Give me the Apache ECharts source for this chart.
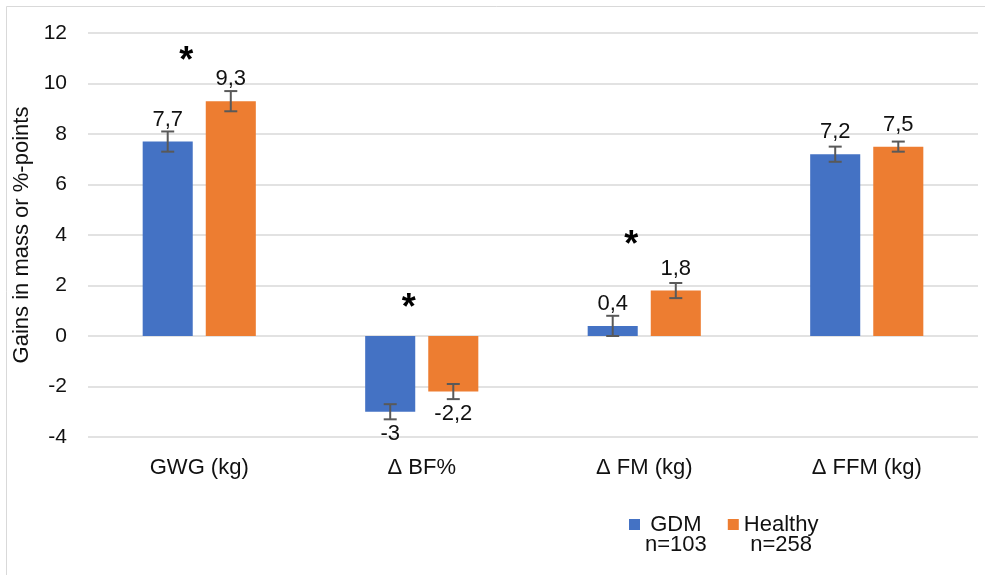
<!DOCTYPE html>
<html>
<head>
<meta charset="utf-8">
<script src="https://cdn.jsdelivr.net/npm/echarts@6/dist/echarts.min.js"></script>
<style>
  html, body { margin: 0; padding: 0; background: #fff; }
  #chart { width: 985px; height: 575px; }
</style>
</head>
<body>
<div id="chart"></div>
<script>
// data
const categories = ['GWG (kg)', '\u0394 BF%', '\u0394 FM (kg)', '\u0394 FFM (kg)']
const gdm = [7.7, -3, 0.4, 7.2]
const healthy = [9.3, -2.2, 1.8, 7.5]
const gdmErr = [0.4, 0.3, 0.4, 0.3]
const healthyErr = [0.4, 0.3, 0.3, 0.2]
const sigMark = [11.1, 1.3, 3.8, null]   // where the * sits, null = none
const groupNames = ['GDM', 'Healthy']
const groupN = ['n=103', 'n=258']

const BLUE = '#4472C4'
const ORANGE = '#ED7D31'
const FONT = 'Liberation Sans, Arial, sans-serif'
const BAR_W = 0.225   // share of the band
const BAR_GAP = 0.26  // share of bar width

const chart = echarts.init(document.getElementById('chart'))

function toComma(v) {
  return String(v).replace('.', ',')
}

function barData(arr) {
  return arr.map(v => ({
    value: v,
    label: { position: v < 0 ? 'bottom' : 'top' }
  }))
}

// error bar drawn at the bar's own offset inside the band
function errRenderer(sign) {
  return function (params, api) {
    const idx = api.value(0)
    const v = api.value(1)
    const e = api.value(2)
    const band = api.size([1, 0])[0]
    const off = sign * band * BAR_W * (1 + BAR_GAP) / 2
    const x = api.coord([idx, v])[0] + off
    const hi = api.coord([idx, v + e])[1]
    const lo = api.coord([idx, v - e])[1]
    const cap = 6.5
    const style = { stroke: '#595959', lineWidth: 2 }
    return {
      type: 'group',
      children: [
        { type: 'line', shape: { x1: x, y1: hi, x2: x, y2: lo }, style },
        { type: 'line', shape: { x1: x - cap, y1: hi, x2: x + cap, y2: hi }, style },
        { type: 'line', shape: { x1: x - cap, y1: lo, x2: x + cap, y2: lo }, style }
      ]
    }
  }
}

const labelStyle = {
  show: true,
  distance: 11,
  fontFamily: FONT,
  fontSize: 22,
  color: '#111',
  formatter: p => toComma(p.value)
}

const option = {
  animation: false,
  backgroundColor: '#fff',
  graphic: [{
    type: 'rect',
    shape: { x: 6.5, y: 6.5, width: 990, height: 590 },
    style: { fill: 'none', stroke: '#d9d9d9', lineWidth: 1 }
  }],
  legend: {
    left: 629,
    top: 514,
    padding: 0,
    selectedMode: false,
    itemWidth: 11,
    itemHeight: 33,
    itemGap: 21,
    data: groupNames.map(n => ({ name: n, icon: 'path://M0,0h10v10h-10z M0,29h0.01v0.01h-0.01z' })),
    formatter: name => {
      const i = groupNames.indexOf(name)
      return '{a|' + name + '}\n{a|' + groupN[i] + '}'
    },
    textStyle: {
      fontFamily: FONT,
      fontSize: 22,
      color: '#111',
      rich: { a: { fontFamily: FONT, fontSize: 22, color: '#111', lineHeight: 20, align: 'center' } }
    }
  },
  grid: { left: 88, right: 7, top: 33, bottom: 138 },
  xAxis: {
    type: 'category',
    data: categories,
    axisLine: { show: false, onZero: false },
    axisTick: { show: false },
    axisLabel: { margin: 20, fontFamily: FONT, fontSize: 22, color: '#111' }
  },
  yAxis: {
    type: 'value',
    min: -4,
    max: 12,
    interval: 2,
    name: 'Gains in mass or %-points',
    nameLocation: 'middle',
    nameGap: 52,
    nameTextStyle: { fontFamily: FONT, fontSize: 22, color: '#111' },
    axisLine: { show: false },
    axisTick: { show: false },
    axisLabel: { margin: 21, fontFamily: FONT, fontSize: 21, color: '#111' },
    splitLine: { lineStyle: { color: '#d9d9d9', width: 1.5 } }
  },
  series: [
    {
      name: 'GDM',
      type: 'bar',
      barWidth: (BAR_W * 100) + '%',
      barGap: (BAR_GAP * 100) + '%',
      itemStyle: { color: BLUE },
      label: labelStyle,
      data: barData(gdm)
    },
    {
      name: 'Healthy',
      type: 'bar',
      barWidth: (BAR_W * 100) + '%',
      barGap: (BAR_GAP * 100) + '%',
      itemStyle: { color: ORANGE },
      label: labelStyle,
      data: barData(healthy)
    },
    {
      name: 'gdmErr',
      type: 'custom',
      z: 5,
      renderItem: errRenderer(-1),
      data: gdm.map((v, i) => [i, v, gdmErr[i]])
    },
    {
      name: 'healthyErr',
      type: 'custom',
      z: 5,
      renderItem: errRenderer(1),
      data: healthy.map((v, i) => [i, v, healthyErr[i]])
    },
    {
      name: 'sig',
      type: 'custom',
      z: 6,
      renderItem: (params, api) => {
        const pt = api.coord([api.value(0), api.value(1)])
        return {
          type: 'text',
          style: {
            text: '*',
            x: pt[0] - 13,
            y: pt[1] + 6,
            align: 'center',
            verticalAlign: 'middle',
            fontFamily: FONT,
            fontWeight: 'bold',
            fontSize: 36,
            fill: '#000'
          }
        }
      },
      data: sigMark.map((v, i) => [i, v]).filter(d => d[1] !== null)
    }
  ]
}

chart.setOption(option)
</script>
</body>
</html>
